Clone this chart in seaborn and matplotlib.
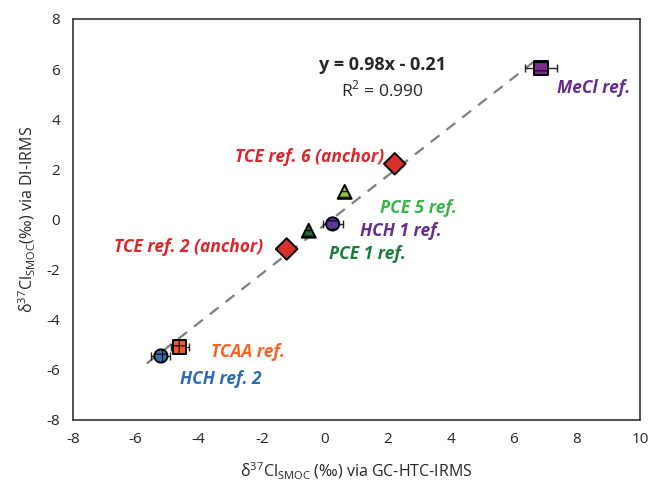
import matplotlib
matplotlib.use("Agg")
import matplotlib.pyplot as plt
import seaborn as sns
import numpy as np
import pandas as pd

# data
names = ["MeCl ref.", "TCE ref. 6 (anchor)", "PCE 5 ref.", "HCH 1 ref.", "PCE 1 ref.",
         "TCE ref. 2 (anchor)", "TCAA ref.", "HCH ref. 2"]
x_gc = [6.86, 2.22, 0.63, 0.25, -0.51, -1.21, -4.60, -5.20]
y_di = [6.04, 2.22, 1.10, -0.18, -0.45, -1.18, -5.09, -5.45]
x_err = [0.50, 0.0, 0.0, 0.32, 0.0, 0.0, 0.29, 0.30]
markers = ["s", "D", "^", "o", "^", "D", "s", "o"]
face_colors = ["#7B2A8E", "#D7302E", "#8CC63F", "#5B3A97", "#1E6B35", "#D7302E", "#F15A24", "#2E74B5"]
hatches = ["--", "", "---", "--", "---", "", "++", "++"]
label_colors = ["#662D91", "#D9272E", "#39B54A", "#662D91", "#1B7A3A", "#D9272E", "#F26522", "#2B6CB0"]
label_x = [7.37, 1.87, 1.75, 1.11, 0.13, -1.97, -3.62, -4.60]
label_y = [5.25, 2.49, 0.46, -0.46, -1.38, -1.10, -5.29, -6.37]
label_ha = ["left", "right", "left", "left", "left", "right", "left", "left"]
slope, intercept = 0.98, -0.21
fit_range = [-5.65, 6.80]
x_ticks = [-8, -6, -4, -2, 0, 2, 4, 6, 8, 10]
y_ticks = [-8, -6, -4, -2, 0, 2, 4, 6, 8]

sns.set_style("white")
plt.rcParams["font.family"] = ["Open Sans", "DejaVu Sans"]
plt.rcParams["mathtext.fontset"] = "custom"
plt.rcParams["mathtext.rm"] = "Open Sans"
plt.rcParams["axes.unicode_minus"] = False
plt.rcParams["hatch.linewidth"] = 0.8

fig, ax = plt.subplots(figsize=(6.49, 4.86), dpi=100)
fig.subplots_adjust(left=0.112, right=0.986, top=0.961, bottom=0.136)

# regression line
fx = np.array(fit_range)
fit_df = pd.DataFrame({"x": fx, "y": slope * fx + intercept})
sns.lineplot(data=fit_df, x="x", y="y", ax=ax, color="#7f7f7f", lw=1.6,
             linestyle=(0, (5, 4)), zorder=1)

df = pd.DataFrame({"x": x_gc, "y": y_di, "name": names})
for i in range(len(names)):
    if x_err[i] > 0:
        ax.errorbar(x_gc[i], y_di[i], xerr=x_err[i], fmt="none", ecolor="#222222",
                    elinewidth=1.0, capsize=3, capthick=1.0, zorder=2)
    size = 120 if markers[i] == "D" else (100 if markers[i] == "^" else 90)
    sns.scatterplot(data=df.iloc[[i]], x="x", y="y", ax=ax, marker=markers[i], s=size,
                    color=face_colors[i], edgecolor="black", linewidth=1.4, zorder=3,
                    hatch=hatches[i], legend=False)
    ax.text(label_x[i], label_y[i], names[i], color=label_colors[i], fontsize=12.5,
            fontweight="bold", fontstyle="italic", ha=label_ha[i], va="center")

ax.text(1.84, 6.16, "y = 0.98x - 0.21", fontsize=13, fontweight="bold", ha="center", va="center")
ax.text(1.84, 5.17, "R$^2$ = 0.990", fontsize=12.5, ha="center", va="center")

ax.set_xlim(-8, 10)
ax.set_ylim(-8, 8)
ax.set_xticks(x_ticks)
ax.set_yticks(y_ticks)
ax.tick_params(axis="both", length=0, labelsize=11, pad=9)
ax.set_xlabel("δ$^{37}$Cl$_{\\mathrm{SMOC}}$ (‰) via GC-HTC-IRMS", fontsize=11.5, labelpad=10)
ax.set_ylabel("δ$^{37}$Cl$_{\\mathrm{SMOC}}$(‰) via DI-IRMS", fontsize=11.5, labelpad=6)
for sp in ax.spines.values():
    sp.set_visible(True)
    sp.set_color("#333333")
    sp.set_linewidth(1.2)
ax.grid(False)

fig.savefig("out.png", dpi=100)
